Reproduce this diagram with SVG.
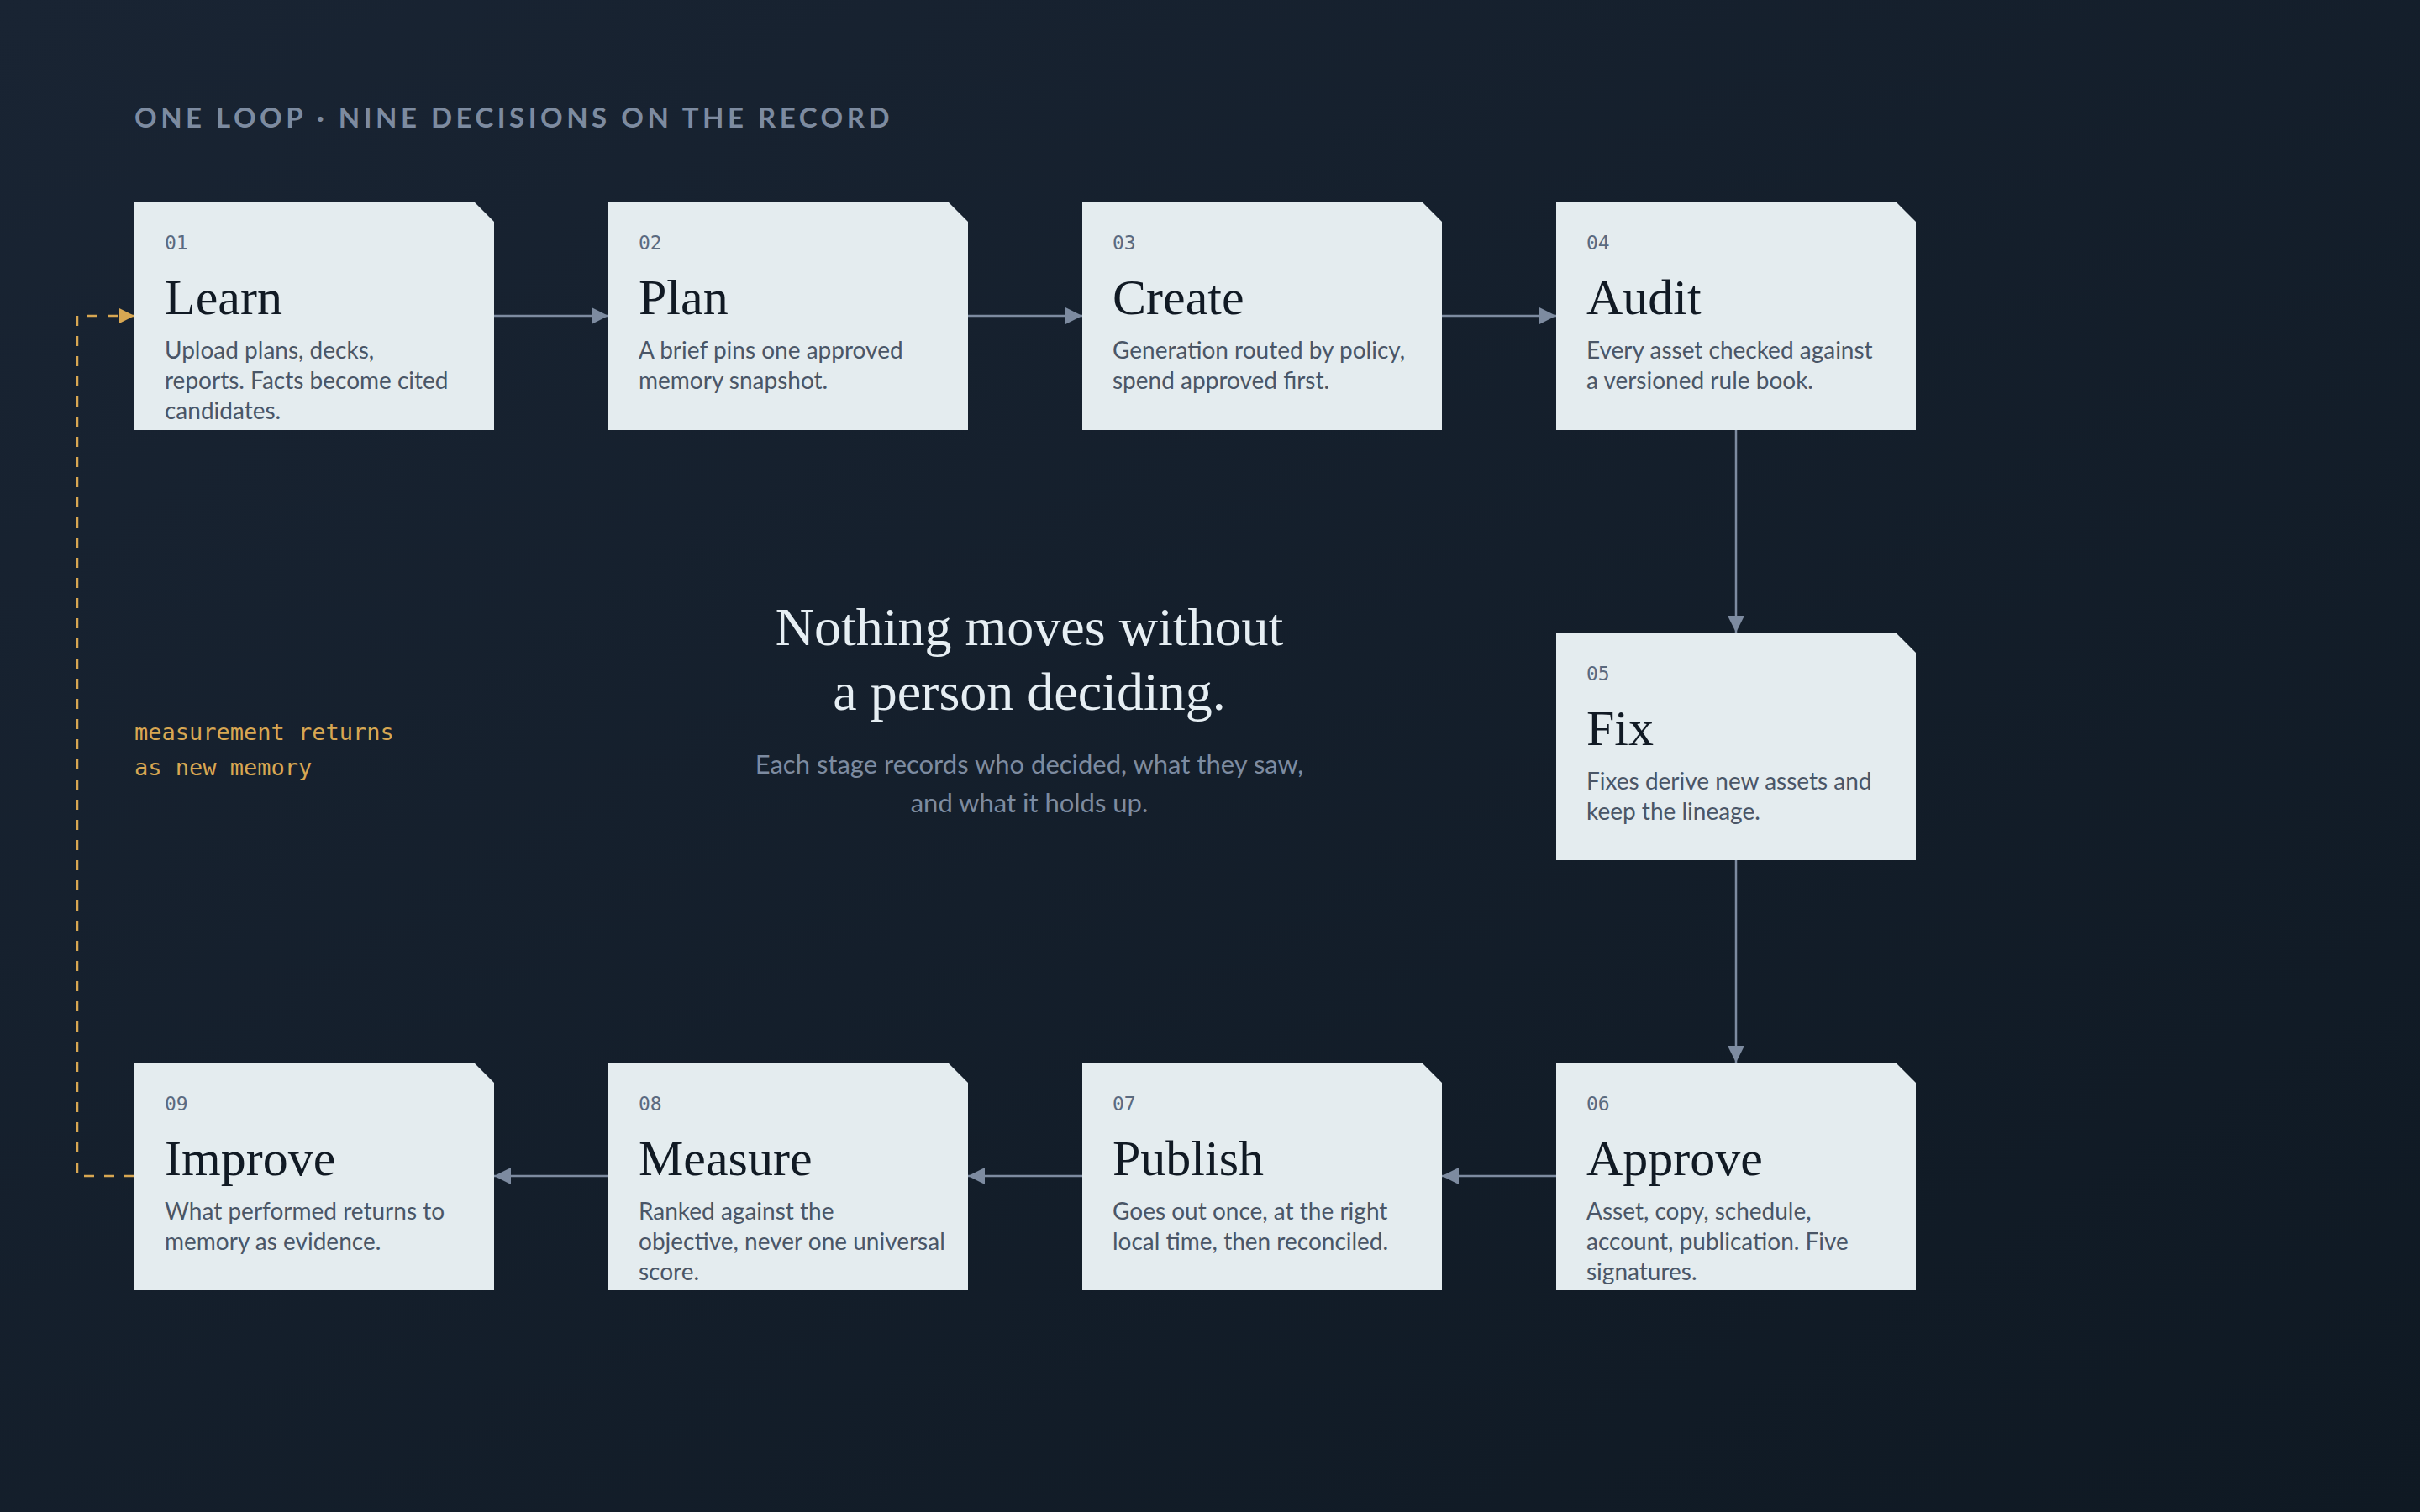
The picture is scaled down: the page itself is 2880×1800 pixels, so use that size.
<svg xmlns="http://www.w3.org/2000/svg" width="2880" height="1800" viewBox="0 0 2880 1800">
<defs>
<linearGradient id="bg" x1="0" y1="0" x2="1" y2="1"><stop offset="0" stop-color="#192433"/><stop offset="1" stop-color="#0f1923"/></linearGradient>
<marker id="ah" viewBox="0 0 10 10" refX="10" refY="5" markerWidth="10" markerHeight="10" markerUnits="userSpaceOnUse" orient="auto"><path d="M0,0L10,5L0,10z" fill="#7d8ba0"/></marker>
<marker id="ahg" viewBox="0 0 10 10" refX="10" refY="5" markerWidth="18" markerHeight="18" markerUnits="userSpaceOnUse" orient="auto"><path d="M0,0L10,5L0,10z" fill="#d8a752"/></marker>
<marker id="ahb" viewBox="0 0 10 10" refX="10" refY="5" markerWidth="20" markerHeight="20" markerUnits="userSpaceOnUse" orient="auto"><path d="M0,0L10,5L0,10z" fill="#7d8ba0"/></marker>
</defs>
<style>
.card{fill:#e4ecef}
.num{font-family:"DejaVu Sans Mono",monospace;font-size:23px;fill:#5a6a80}
.ttl{font-family:"Liberation Serif",serif;font-size:60px;fill:#111a24}
.dsc{font-family:Lato,sans-serif;font-size:28px;fill:#4a5667}
.con{stroke:#7d8ba0;stroke-width:2.5;fill:none}
</style>
<rect width="2880" height="1800" fill="url(#bg)"/>
<text x="160" y="152" font-family="Lato,sans-serif" font-weight="bold" font-size="33" letter-spacing="4.5" fill="#7d8ba0">ONE LOOP · NINE DECISIONS ON THE RECORD</text>
<g id="connectors">
<line class="con" x1="588" y1="376" x2="724" y2="376" marker-end="url(#ahb)"/>
<line class="con" x1="1716" y1="376" x2="1852" y2="376" marker-end="url(#ahb)"/>
<line class="con" x1="1152" y1="376" x2="1288" y2="376" marker-end="url(#ahb)"/>
<line class="con" x1="2066" y1="512" x2="2066" y2="753" marker-end="url(#ahb)"/>
<line class="con" x1="2066" y1="1024" x2="2066" y2="1265" marker-end="url(#ahb)"/>
<line class="con" x1="1852" y1="1400" x2="1716" y2="1400" marker-end="url(#ahb)"/>
<line class="con" x1="1288" y1="1400" x2="1152" y2="1400" marker-end="url(#ahb)"/>
<line class="con" x1="724" y1="1400" x2="588" y2="1400" marker-end="url(#ahb)"/>
<path d="M160,1400H92V376H160" fill="none" stroke="#d8a752" stroke-width="2.5" stroke-dasharray="12,12" marker-end="url(#ahg)"/>
</g>
<g id="n01"><path class="card" d="M160,240H564L588,264V512H160z"/><text class="num" x="196" y="297">01</text><text class="ttl" x="196" y="374">Learn</text><text class="dsc" x="196" y="427">Upload plans, decks,</text><text class="dsc" x="196" y="463">reports. Facts become cited</text><text class="dsc" x="196" y="499">candidates.</text></g>
<g id="n02"><path class="card" d="M724,240H1128L1152,264V512H724z"/><text class="num" x="760" y="297">02</text><text class="ttl" x="760" y="374">Plan</text><text class="dsc" x="760" y="427">A brief pins one approved</text><text class="dsc" x="760" y="463">memory snapshot.</text></g>
<g id="n03"><path class="card" d="M1288,240H1692L1716,264V512H1288z"/><text class="num" x="1324" y="297">03</text><text class="ttl" x="1324" y="374">Create</text><text class="dsc" x="1324" y="427">Generation routed by policy,</text><text class="dsc" x="1324" y="463">spend approved first.</text></g>
<g id="n04"><path class="card" d="M1852,240H2256L2280,264V512H1852z"/><text class="num" x="1888" y="297">04</text><text class="ttl" x="1888" y="374">Audit</text><text class="dsc" x="1888" y="427">Every asset checked against</text><text class="dsc" x="1888" y="463">a versioned rule book.</text></g>
<g id="n05"><path class="card" d="M1852,753H2256L2280,777V1024H1852z"/><text class="num" x="1888" y="810">05</text><text class="ttl" x="1888" y="887">Fix</text><text class="dsc" x="1888" y="940">Fixes derive new assets and</text><text class="dsc" x="1888" y="976">keep the lineage.</text></g>
<g id="n06"><path class="card" d="M1852,1265H2256L2280,1289V1536H1852z"/><text class="num" x="1888" y="1322">06</text><text class="ttl" x="1888" y="1399">Approve</text><text class="dsc" x="1888" y="1452">Asset, copy, schedule,</text><text class="dsc" x="1888" y="1488">account, publication. Five</text><text class="dsc" x="1888" y="1524">signatures.</text></g>
<g id="n07"><path class="card" d="M1288,1265H1692L1716,1289V1536H1288z"/><text class="num" x="1324" y="1322">07</text><text class="ttl" x="1324" y="1399">Publish</text><text class="dsc" x="1324" y="1452">Goes out once, at the right</text><text class="dsc" x="1324" y="1488">local time, then reconciled.</text></g>
<g id="n08"><path class="card" d="M724,1265H1128L1152,1289V1536H724z"/><text class="num" x="760" y="1322">08</text><text class="ttl" x="760" y="1399">Measure</text><text class="dsc" x="760" y="1452">Ranked against the</text><text class="dsc" x="760" y="1488">objective, never one universal</text><text class="dsc" x="760" y="1524">score.</text></g>
<g id="n09"><path class="card" d="M160,1265H564L588,1289V1536H160z"/><text class="num" x="196" y="1322">09</text><text class="ttl" x="196" y="1399">Improve</text><text class="dsc" x="196" y="1452">What performed returns to</text><text class="dsc" x="196" y="1488">memory as evidence.</text></g>
<g id="loop-label" font-family="DejaVu Sans Mono,monospace" font-size="27" fill="#d8a752"><text x="160" y="881">measurement returns</text><text x="160" y="923">as new memory</text></g>
<g id="center" text-anchor="middle">
<text x="1225" y="768" font-family="Liberation Serif,serif" font-size="64" fill="#e6eef3">Nothing moves without</text>
<text x="1225" y="845" font-family="Liberation Serif,serif" font-size="64" fill="#e6eef3">a person deciding.</text>
<text x="1225" y="921" font-family="Lato,sans-serif" font-size="31" fill="#7d8ba0">Each stage records who decided, what they saw,</text>
<text x="1225" y="967" font-family="Lato,sans-serif" font-size="31" fill="#7d8ba0">and what it holds up.</text>
</g>
</svg>
